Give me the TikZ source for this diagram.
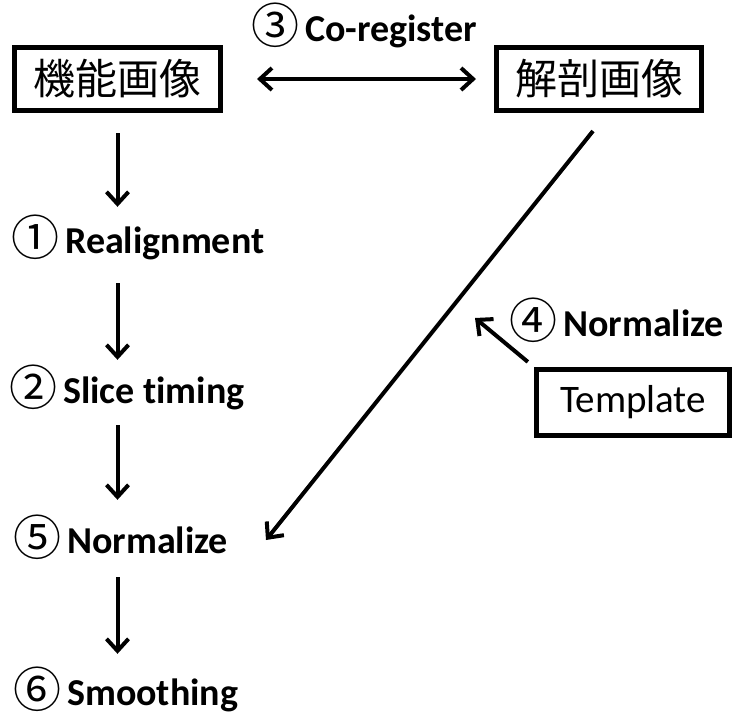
\documentclass[tikz,border=0pt]{standalone}
\usepackage{fontspec}
\setmainfont{Carlito}[Ligatures=NoCommon]
\newfontfamily\cjk{Noto Sans CJK JP}
\usetikzlibrary{arrows.meta}
\tikzset{
  box/.style={draw, line width=5pt, minimum height=63pt, inner sep=0pt,
    font=\cjk\fontsize{42}{48}\selectfont},
  lbl/.style={anchor=base west, inner sep=0pt, text height=28pt, text depth=8pt,
    font=\bfseries\fontsize{38}{44}\selectfont},
  arr/.style={line width=4pt, -{Straight Barb[length=12pt,width=22pt]}},
  dblarr/.style={line width=4pt, {Straight Barb[length=12pt,width=22pt]}-{Straight Barb[length=12pt,width=22pt]}},
}
% circled step number
\newcommand{\num}[1]{\raisebox{-2.5pt}{\cjk\mdseries\fontsize{48}{48}\selectfont #1}\hspace{6pt}}
\begin{document}
\begin{tikzpicture}[x=1pt,y=-1pt]
  \useasboundingbox (0,0) rectangle (732,713);
  \begin{scope}
    \node[box, minimum width=206pt] (func) at (117.5,79) {機能画像};
    \node[box, minimum width=205pt] (anat) at (599,79) {解剖画像};
    \node[box, minimum width=193pt, minimum height=66pt,
      font=\fontsize{39}{44}\selectfont] (tmpl) at (633,402.5) {Template};

    \node[lbl] (coreg) at (251,41) {\num{③}Co-register};
    \node[lbl] (realign) at (11,253) {\num{①}Realignment};
    \node[lbl] (slice) at (9,403) {\num{②}Slice timing};
    \node[lbl] (tnorm) at (509,336) {\num{④}Normalize};
    \node[lbl] (fnorm) at (13,553) {\num{⑤}Normalize};
    \node[lbl] (smooth) at (13,705) {\num{⑥}Smoothing};

    \coordinate (dtop) at (593,131);
    \coordinate (dtip) at (266,540);
    \coordinate (ttip) at (475,318);

    \draw[dblarr, shorten <=34pt, shorten >=18pt] (func.east) -- (anat.west);
    \draw[arr, shorten <=20pt, shorten >=18pt] (func.south) -- (func.south |- realign.north);
    \draw[arr, shorten <=22pt, shorten >=15pt] (func.south |- realign.south) -- (func.south |- slice.north);
    \draw[arr, shorten <=14pt, shorten >=25pt] (func.south |- slice.south) -- (func.south |- fnorm.north);
    \draw[arr, shorten <=16pt, shorten >=23pt] (func.south |- fnorm.south) -- (func.south |- smooth.north);
    \draw[arr] (dtop) -- (dtip);
    \draw[arr, shorten <=8pt] (tmpl.north west) -- (ttip);
  \end{scope}
\end{tikzpicture}
\end{document}
